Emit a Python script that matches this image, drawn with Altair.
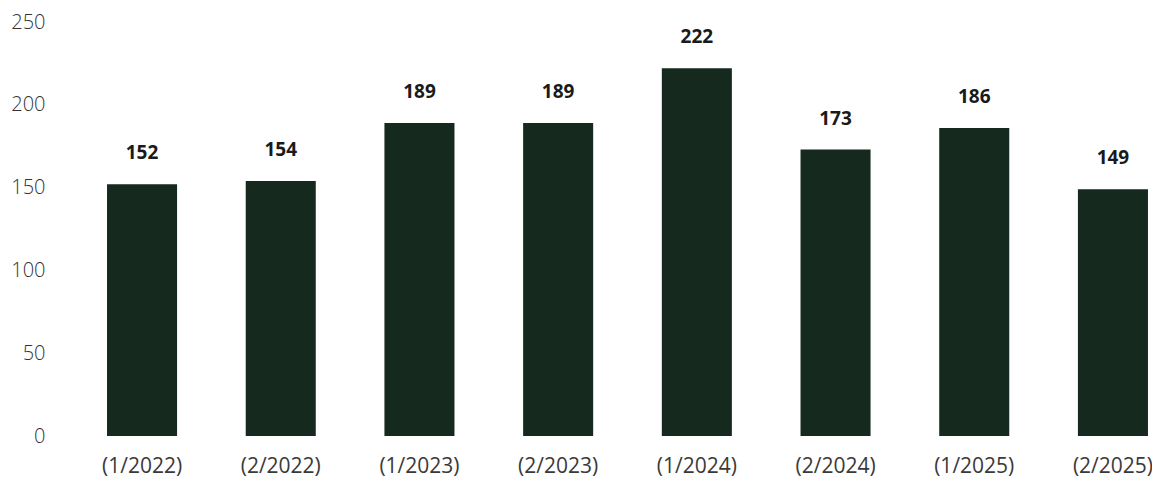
import altair as alt
import pandas as pd

periods = ["(1/2022)", "(2/2022)", "(1/2023)", "(2/2023)", "(1/2024)", "(2/2024)", "(1/2025)", "(2/2025)"]
values = [152, 154, 189, 189, 222, 173, 186, 149]

df = pd.DataFrame({"period": periods, "value": values})

x = alt.X("period:N", sort=periods, title=None,
          scale=alt.Scale(paddingInner=0.495, paddingOuter=0.112, align=0.87),
          axis=alt.Axis(labelAngle=0, ticks=False, domain=False, labelPadding=19,
                        labelFont="Open Sans", labelFontSize=21, labelFontWeight=400,
                        labelColor="#3a3a3a"))
y = alt.Y("value:Q", title=None,
          scale=alt.Scale(domain=[0, 250], nice=False),
          axis=alt.Axis(values=[0, 50, 100, 150, 200, 250], ticks=False, domain=False, grid=False,
                        labelPadding=35, labelFont="Open Sans", labelFontSize=20, labelFontWeight=300,
                        labelColor="#333333"))

bars = alt.Chart(df).mark_bar(color="#15291f").encode(x=x, y=y)
labels = alt.Chart(df).mark_text(font="Open Sans", fontSize=19, fontWeight="bold", color="#1a1a1a",
                                 baseline="alphabetic", dy=-25).encode(x=x, y=y, text="value:Q")

chart = (bars + labels).properties(
    width=1072, height=414,
    autosize=alt.AutoSizeParams(type="none"),
    padding={"left": 72, "top": 14, "right": 0, "bottom": 42},
).configure_view(stroke=None)

chart.save("out.html", embed_options={"renderer": "svg", "actions": False})
